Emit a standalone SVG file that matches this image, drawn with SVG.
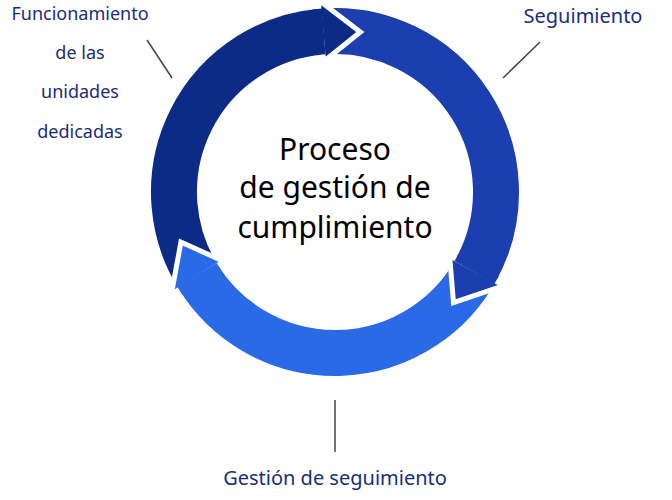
<svg xmlns="http://www.w3.org/2000/svg" width="672" height="500" viewBox="0 0 672 500">
<style>
.b{fill:none;stroke-width:46}
.h{stroke:#fff;stroke-width:5;stroke-linejoin:miter}
.lbl{font-family:"Noto Sans","Liberation Sans",sans-serif;font-size:18px;fill:#1a2d7a}
.ctr{font-family:"Noto Sans","Liberation Sans",sans-serif;font-size:30px;fill:#000;text-anchor:middle}
.ln{stroke:#444;stroke-width:1.5}
</style>
<defs>
<path id="head" d="M335,-1 L374.2,34.8 L335,61 Z"/>
<path id="cap" d="M329.4,31.1 A161,161 0 0 1 337.8,31.0"/>
</defs>
<rect width="672" height="500" fill="#fff"/>
<g id="connectors">
<line class="ln" x1="147" y1="40" x2="172" y2="78"/>
<line class="ln" x1="540" y1="42" x2="503" y2="78"/>
<line class="ln" x1="335" y1="400" x2="335" y2="452"/>
</g>
<g id="ring">
<path class="b" stroke="#0b2b86" d="M335,31 A161,161 0 0 1 478.5,265.1" transform="rotate(238 335 192)"/>
<path class="b" stroke="#1b3fae" d="M335,31 A161,161 0 0 1 468.5,282.0" transform="rotate(-5 335 192)"/>
<path class="b" stroke="#2b6ae6" d="M335,31 A161,161 0 0 1 475.8,270.0" transform="rotate(119 335 192)"/>
<use href="#head" class="h" fill="#0b2b86" transform="rotate(-5 335 192)"/>
<use href="#head" class="h" fill="#1b3fae" transform="rotate(119 335 192)"/>
<use href="#head" class="h" fill="#2b6ae6" transform="rotate(238 335 192)"/>
<use href="#cap" class="b" stroke="#0b2b86" transform="rotate(-5 335 192)"/>
<use href="#cap" class="b" stroke="#1b3fae" transform="rotate(119 335 192)"/>
<use href="#cap" class="b" stroke="#2b6ae6" transform="rotate(238 335 192)"/>
</g>
<g id="center">
<text class="ctr" x="335" y="160">Proceso</text>
<text class="ctr" x="335" y="198">de gestión de</text>
<text class="ctr" x="335" y="238">cumplimiento</text>
</g>
<g id="n-funcionamiento">
<text class="lbl" x="80" y="20" text-anchor="middle">Funcionamiento</text>
<text class="lbl" x="80" y="59" text-anchor="middle">de las</text>
<text class="lbl" x="80" y="98" text-anchor="middle">unidades</text>
<text class="lbl" x="80" y="138" text-anchor="middle">dedicadas</text>
</g>
<g id="n-seguimiento">
<text class="lbl" x="583" y="23" text-anchor="middle" style="font-size:20px">Seguimiento</text>
</g>
<g id="n-gestion">
<text class="lbl" x="335" y="485" text-anchor="middle" style="font-size:20px">Gestión de seguimiento</text>
</g>
</svg>
